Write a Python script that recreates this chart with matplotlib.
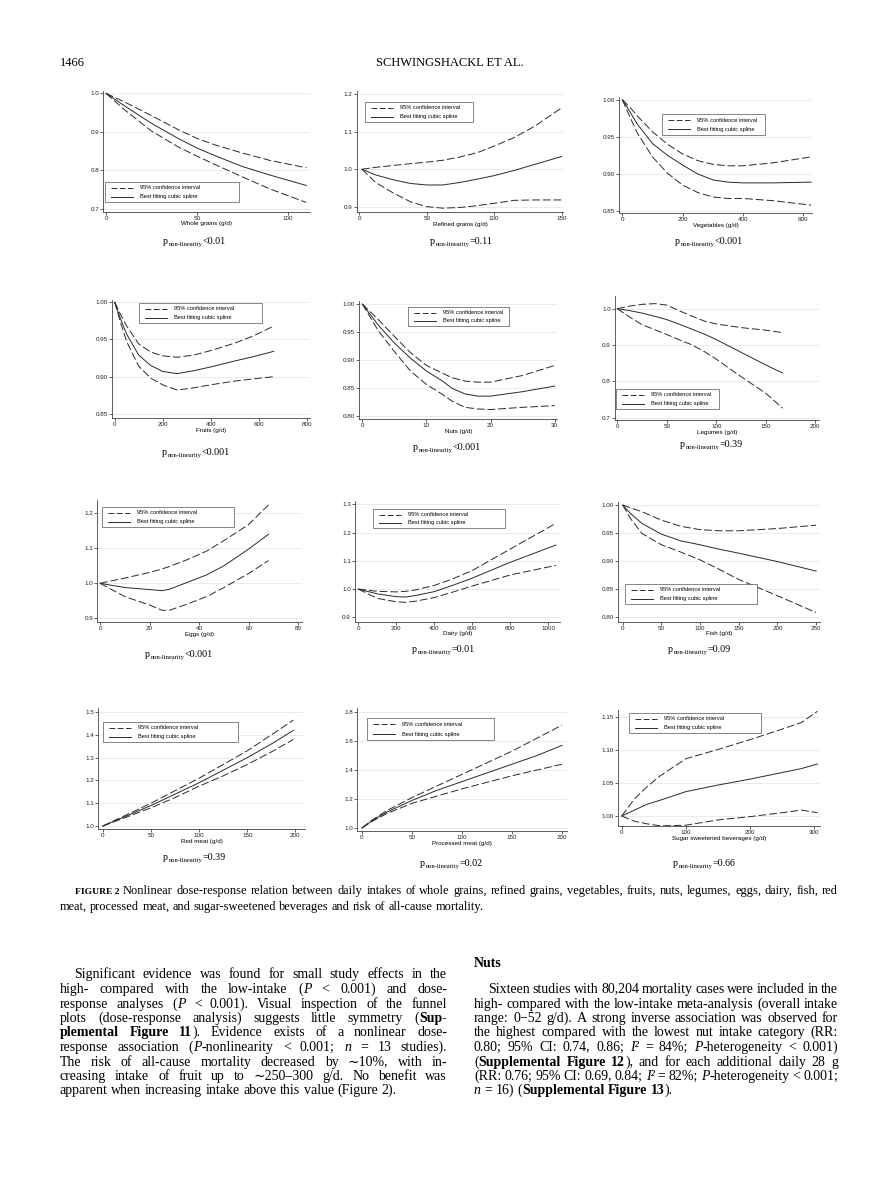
import math
import numpy as np
import matplotlib
matplotlib.use("Agg")
import matplotlib.pyplot as plt
from matplotlib.patches import Rectangle
from matplotlib.lines import Line2D
from matplotlib.font_manager import FontProperties

# ---- curves (x in g/d, relative risk) ----
wg_x = [0, 10, 25, 40, 50, 60, 75, 90, 110]
wg_fit = [1.0, 0.968, 0.922, 0.882, 0.858, 0.838, 0.810, 0.788, 0.761]
wg_hi = [1.0, 0.978, 0.942, 0.905, 0.883, 0.866, 0.845, 0.826, 0.807]
wg_lo = [1.0, 0.958, 0.902, 0.860, 0.837, 0.815, 0.783, 0.752, 0.717]

rg_x = [2, 12, 25, 38, 50, 62, 75, 88, 100, 115, 130, 150]
rg_fit = [1.0, 0.985, 0.972, 0.962, 0.958, 0.958, 0.965, 0.974, 0.983, 0.997, 1.013, 1.034]
rg_hi = [1.0, 1.005, 1.010, 1.015, 1.019, 1.024, 1.033, 1.045, 1.062, 1.085, 1.115, 1.164]
rg_lo = [1.0, 0.965, 0.937, 0.913, 0.900, 0.896, 0.898, 0.903, 0.909, 0.917, 0.918, 0.918]

veg_x = [0, 25, 50, 100, 150, 200, 250, 300, 350, 400, 500, 626]
veg_fit = [1.0, 0.984, 0.967, 0.941, 0.925, 0.912, 0.900, 0.892, 0.889, 0.888, 0.888, 0.889]
veg_hi = [1.0, 0.990, 0.978, 0.957, 0.940, 0.927, 0.918, 0.913, 0.911, 0.911, 0.915, 0.923]
veg_lo = [1.0, 0.977, 0.955, 0.923, 0.901, 0.885, 0.875, 0.869, 0.867, 0.867, 0.864, 0.858]

fr_x = [0, 25, 50, 100, 150, 200, 260, 330, 400, 500, 580, 663]
fr_fit = [1.0, 0.977, 0.957, 0.929, 0.915, 0.907, 0.904, 0.908, 0.913, 0.921, 0.927, 0.934]
fr_hi = [1.0, 0.983, 0.968, 0.944, 0.933, 0.928, 0.926, 0.929, 0.935, 0.945, 0.955, 0.968]
fr_lo = [1.0, 0.972, 0.947, 0.914, 0.898, 0.889, 0.882, 0.885, 0.889, 0.894, 0.897, 0.900]

nut_x = [0, 2.5, 5, 7.5, 10, 12.5, 14, 16, 18, 20, 25, 30]
nut_fit = [1.0, 0.962, 0.930, 0.903, 0.880, 0.862, 0.849, 0.839, 0.835, 0.835, 0.843, 0.853]
nut_hi = [1.0, 0.972, 0.942, 0.913, 0.890, 0.876, 0.868, 0.862, 0.860, 0.860, 0.872, 0.890]
nut_lo = [1.0, 0.952, 0.915, 0.880, 0.856, 0.838, 0.826, 0.815, 0.812, 0.811, 0.815, 0.818]

leg_x = [0, 12, 25, 38, 50, 62, 75, 88, 100, 125, 150, 167]
leg_fit = [1.0, 0.995, 0.988, 0.979, 0.970, 0.958, 0.944, 0.930, 0.915, 0.880, 0.845, 0.823]
leg_hi = [1.0, 1.007, 1.012, 1.014, 1.010, 0.995, 0.980, 0.966, 0.958, 0.948, 0.941, 0.934]
leg_lo = [1.0, 0.978, 0.956, 0.942, 0.929, 0.915, 0.901, 0.882, 0.861, 0.813, 0.767, 0.726]

egg_x = [0, 10, 20, 25, 28, 35, 43, 50, 60, 68]
egg_fit = [1.0, 0.988, 0.982, 0.979, 0.983, 1.002, 1.024, 1.050, 1.098, 1.140]
egg_hi = [1.0, 1.015, 1.031, 1.041, 1.048, 1.067, 1.092, 1.122, 1.168, 1.224]
egg_lo = [1.0, 0.962, 0.938, 0.923, 0.923, 0.940, 0.962, 0.988, 1.028, 1.065]

dai_x = [0, 100, 200, 250, 300, 400, 500, 600, 800, 1040]
dai_fit = [1.0, 0.983, 0.973, 0.972, 0.977, 0.991, 1.014, 1.039, 1.095, 1.156]
dai_hi = [1.0, 0.992, 0.990, 0.992, 0.997, 1.013, 1.037, 1.066, 1.142, 1.233]
dai_lo = [1.0, 0.967, 0.955, 0.953, 0.957, 0.970, 0.990, 1.011, 1.050, 1.084]

fish_x = [0, 10, 25, 50, 75, 100, 125, 150, 200, 250]
fish_fit = [1.0, 0.985, 0.967, 0.948, 0.936, 0.929, 0.921, 0.914, 0.899, 0.882]
fish_hi = [1.0, 0.995, 0.988, 0.973, 0.962, 0.956, 0.954, 0.954, 0.958, 0.964]
fish_lo = [1.0, 0.976, 0.949, 0.929, 0.916, 0.902, 0.885, 0.867, 0.838, 0.808]

rm_x = [0, 25, 50, 75, 100, 125, 150, 175, 198]
rm_fit = [1.0, 1.045, 1.09, 1.14, 1.19, 1.245, 1.30, 1.36, 1.42]
rm_hi = [1.0, 1.05, 1.10, 1.155, 1.21, 1.27, 1.33, 1.40, 1.465]
rm_lo = [1.0, 1.04, 1.08, 1.125, 1.175, 1.22, 1.27, 1.325, 1.38]

pm_x = [0, 10, 25, 50, 75, 100, 125, 150, 175, 200]
pm_fit = [1.0, 1.05, 1.11, 1.19, 1.26, 1.32, 1.38, 1.44, 1.50, 1.57]
pm_hi = [1.0, 1.055, 1.12, 1.21, 1.29, 1.37, 1.45, 1.53, 1.62, 1.71]
pm_lo = [1.0, 1.045, 1.10, 1.17, 1.22, 1.27, 1.315, 1.36, 1.40, 1.44]

ssb_x = [0, 20, 40, 60, 100, 150, 200, 250, 280, 305]
ssb_fit = [1.0, 1.009, 1.018, 1.024, 1.037, 1.047, 1.056, 1.066, 1.072, 1.079]
ssb_hi = [1.0, 1.026, 1.045, 1.061, 1.087, 1.101, 1.116, 1.132, 1.142, 1.159]
ssb_lo = [1.0, 0.992, 0.988, 0.985, 0.986, 0.994, 0.999, 1.005, 1.009, 1.005]

xlabels = ['Whole grains (g/d)', 'Refined grains (g/d)', 'Vegetables (g/d)',
           'Fruits (g/d)', 'Nuts (g/d)', 'Legumes (g/d)',
           'Eggs (g/d)', 'Dairy (g/d)', 'Fish (g/d)',
           'Red meat (g/d)', 'Processed meat (g/d)', 'Sugar sweetened beverages (g/d)']
p_values = ['<0.01', '=0.11', '<0.001', '<0.001', '<0.001', '=0.39',
            '<0.001', '=0.01', '=0.09', '=0.39', '=0.02', '=0.66']
legend_labels = ['95% confidence interval', 'Best fitting cubic spline']

W, H = 892, 1195
fig = plt.figure(figsize=(W / 100, H / 100), dpi=100)
renderer = fig.canvas.get_renderer()

SANS = ['Liberation Sans', 'DejaVu Sans']
SERIF = ['Liberation Serif', 'DejaVu Serif']
plt.rcParams['font.family'] = SANS
curve_col = '#2a2a2a'
label_size = 4.5
leg_size = 4.1


def fx(x):
    return x / W


def fy(y):
    return 1 - y / H


# rect = (left, top, right, bottom) in page pixels, leg = legend box
panels = [
    dict(d=(wg_x, wg_fit, wg_lo, wg_hi), rect=(103.3, 91, 310, 211.7), xlim=(-1.5, 112), ylim=(0.693, 1.006),
         xt=[0, 50, 100], yt=[0.7, 0.8, 0.9, 1.0], fmt='%.1f', pp=(163, 244), leg=(105, 182, 239, 202)),
    dict(d=(rg_x, rg_fit, rg_lo, rg_hi), rect=(356.7, 91, 563.3, 212.3), xlim=(-1.9, 151.2), ylim=(0.885, 1.209),
         xt=[0, 50, 100, 150], yt=[0.9, 1.0, 1.1, 1.2], fmt='%.1f', pp=(430, 244), leg=(365, 102, 473, 122)),
    dict(d=(veg_x, veg_fit, veg_lo, veg_hi), rect=(619.3, 97, 812.3, 213.3), xlim=(-10, 630), ylim=(0.847, 1.0037),
         xt=[0, 200, 400, 600], yt=[0.85, 0.90, 0.95, 1.00], fmt='%.2f', pp=(675, 244), leg=(662, 114, 765, 135)),
    dict(d=(fr_x, fr_fit, fr_lo, fr_hi), rect=(111.7, 300, 310, 418.3), xlim=(-12.5, 814), ylim=(0.844, 1.003),
         xt=[0, 200, 400, 600, 800], yt=[0.85, 0.90, 0.95, 1.00], fmt='%.2f', pp=(162, 455), leg=(139, 303, 262, 323)),
    dict(d=(nut_x, nut_fit, nut_lo, nut_hi), rect=(359.3, 301, 557.3, 419.3), xlim=(-0.47, 30.4), ylim=(0.7935, 1.0054),
         xt=[0, 10, 20, 30], yt=[0.80, 0.85, 0.90, 0.95, 1.00], fmt='%.2f', pp=(413, 450), leg=(408, 307, 509, 326)),
    dict(d=(leg_x, leg_fit, leg_lo, leg_hi), rect=(615, 296, 819.3, 420), xlim=(-2.3, 204), ylim=(0.6936, 1.035),
         xt=[0, 50, 100, 150, 200], yt=[0.7, 0.8, 0.9, 1.0], fmt='%.1f', pp=(680, 447), leg=(616, 389, 719, 409)),
    dict(d=(egg_x, egg_fit, egg_lo, egg_hi), rect=(97.3, 500, 301.7, 622.3), xlim=(-1.1, 81.4), ylim=(0.8886, 1.238),
         xt=[0, 20, 40, 60, 80], yt=[0.9, 1.0, 1.1, 1.2], fmt='%.1f', pp=(145, 657), leg=(102, 507, 234, 527)),
    dict(d=(dai_x, dai_fit, dai_lo, dai_hi), rect=(355, 501, 560, 621.7), xlim=(-17.5, 1061), ylim=(0.8845, 1.3118),
         xt=[0, 200, 400, 600, 800, 1000], yt=[0.9, 1.0, 1.1, 1.2, 1.3], fmt='%.1f', pp=(412, 652), leg=(373, 509, 505, 528)),
    dict(d=(fish_x, fish_fit, fish_lo, fish_hi), rect=(618.3, 502, 820, 621.7), xlim=(-5.7, 255), ylim=(0.7916, 1.0054),
         xt=[0, 50, 100, 150, 200, 250], yt=[0.80, 0.85, 0.90, 0.95, 1.00], fmt='%.2f', pp=(668, 652), leg=(625, 584, 757, 604)),
    dict(d=(rm_x, rm_fit, rm_lo, rm_hi), rect=(98, 708, 305, 829), xlim=(-5, 210), ylim=(0.987, 1.518),
         xt=[0, 50, 100, 150, 200], yt=[1.0, 1.1, 1.2, 1.3, 1.4, 1.5], fmt='%.1f', pp=(163, 860), leg=(103, 722, 238, 742)),
    dict(d=(pm_x, pm_fit, pm_lo, pm_hi), rect=(357, 708, 567, 831), xlim=(-5, 205), ylim=(0.979, 1.828),
         xt=[0, 50, 100, 150, 200], yt=[1.0, 1.2, 1.4, 1.6, 1.8], fmt='%.1f', pp=(420, 866), leg=(367, 718, 494, 740)),
    dict(d=(ssb_x, ssb_fit, ssb_lo, ssb_hi), rect=(618.3, 710, 820, 826), xlim=(-5.3, 309), ylim=(0.9848, 1.161),
         xt=[0, 100, 200, 300], yt=[1.00, 1.05, 1.10, 1.15], fmt='%.2f', pp=(673, 866), leg=(629, 713, 761, 733)),
]


def tw(s, prop):
    return renderer.get_text_width_height_descent(s, prop, ismath=False)[0]


def serif(size, bold=False, italic=False):
    return FontProperties(family=SERIF, size=size, weight='bold' if bold else 'normal',
                          style='italic' if italic else 'normal')


def put(x, y, s, prop, **kw):
    # Agg snaps each text bitmap by its own descent; shift so every baseline lands on row round(y)
    w, h, d = renderer.get_text_width_height_descent(s, prop, ismath=False)
    ytd = round(y) + math.floor(h) - math.floor(h - d) - d
    fig.text(fx(x), fy(ytd), s, fontproperties=prop, va='baseline', **kw)


for k, p in enumerate(panels):
    l, t, r, b = p['rect']
    ax = fig.add_axes([fx(l), fy(b), (r - l) / W, (b - t) / H])
    x, fit, lo, hi = p['d']
    ax.plot(x, hi, color=curve_col, lw=0.7, dashes=(8, 3))
    ax.plot(x, fit, color=curve_col, lw=0.7)
    ax.plot(x, lo, color=curve_col, lw=0.7, dashes=(8, 3))
    ax.set_xlim(p['xlim'])
    ax.set_ylim(p['ylim'])
    ax.set_xticks(p['xt'])
    ax.set_yticks(p['yt'])
    ax.set_yticklabels([p['fmt'] % v for v in p['yt']])
    ax.yaxis.grid(True, color='#e8e8e8', lw=0.6)
    ax.set_axisbelow(True)
    for s in ['top', 'right']:
        ax.spines[s].set_visible(False)
    for s in ['left', 'bottom']:
        ax.spines[s].set_color('#444444')
        ax.spines[s].set_linewidth(0.6)
    ax.tick_params(length=2, width=0.5, pad=1, labelsize=label_size, colors='#222222')
    ax.set_xlabel(xlabels[k], fontsize=label_size, labelpad=0.3)

    # legend box
    x0, y0, x1, y1 = p['leg']
    hgt = y1 - y0
    fig.add_artist(Rectangle((fx(x0), fy(y1)), (x1 - x0) / W, hgt / H, transform=fig.transFigure,
                             facecolor='white', edgecolor='#555555', lw=0.5, zorder=5))
    for j, (lab, ls) in enumerate(zip(legend_labels, [(6, 2.5), None])):
        yy = y0 + hgt * (0.29 if j == 0 else 0.73)
        ln = Line2D([fx(x0 + 6), fx(x0 + 28)], [fy(yy), fy(yy)], transform=fig.transFigure,
                    color=curve_col, lw=0.7, zorder=6)
        if ls:
            ln.set_dashes(ls)
        fig.add_artist(ln)
        fig.text(fx(x0 + 35), fy(yy), lab, fontsize=leg_size, va='center', ha='left', zorder=6)

    # p non-linearity text
    px, py = p['pp']
    big = serif(7.2)
    small = serif(4.7)
    put(px, py, 'p', big)
    px += tw('p', big) + 0.5
    sub = 'non-linearity'
    put(px, py + 2, sub, small)
    px += tw(sub, small) + 0.5
    put(px, py, p_values[k], big)


# ---- page text ----
def parse(line):
    words = []
    bold = False
    ital = False
    for w in line.split(' '):
        runs = []
        buf = ''
        for ch in w:
            if ch in '*_':
                if buf:
                    runs.append((buf, bold, ital))
                    buf = ''
                if ch == '*':
                    bold = not bold
                else:
                    ital = not ital
            else:
                buf += ch
        if buf:
            runs.append((buf, bold, ital))
        words.append(runs)
    return words


def draw_line(line, x0, x1, y, size, justify=True):
    words = parse(line)
    widths = [sum(tw(t, serif(size, b, i)) for t, b, i in runs) for runs in words]
    space = tw('a a', serif(size)) - tw('aa', serif(size))
    if justify and len(words) > 1:
        gap = (x1 - x0 - sum(widths)) / (len(words) - 1)
    else:
        gap = space
    x = x0
    for runs, w in zip(words, widths):
        xx = x
        for t, b, i in runs:
            put(xx, y, t, serif(size, b, i), ha='left')
            xx += tw(t, serif(size, b, i))
        x += w + gap


put(60, 66, '1466', serif(9))
put(450, 66, 'SCHWINGSHACKL ET AL.', serif(9), ha='center')

cap = 8.9
put(75, 894, 'FIGURE 2', serif(6.8, True))
draw_line('Nonlinear dose-response relation between daily intakes of whole grains, refined grains, '
          'vegetables, fruits, nuts, legumes, eggs, dairy, fish, red', 123, 838, 894, cap)
draw_line('meat, processed meat, and sugar-sweetened beverages and risk of all-cause mortality.',
          60, 838, 910, cap, justify=False)

body = 10.0
left_lines = [
    'Significant evidence was found for small study effects in the',
    'high- compared with the low-intake (_P_ < 0.001) and dose-',
    'response analyses (_P_ < 0.001). Visual inspection of the funnel',
    'plots (dose-response analysis) suggests little symmetry (*Sup-*',
    '*plemental Figure 11*). Evidence exists of a nonlinear dose-',
    'response association (_P_-nonlinearity < 0.001; _n_ = 13 studies).',
    'The risk of all-cause mortality decreased by ∼10%, with in-',
    'creasing intake of fruit up to ∼250–300 g/d. No benefit was',
    'apparent when increasing intake above this value (Figure 2).',
]
right_lines = [
    'Sixteen studies with 80,204 mortality cases were included in the',
    'high- compared with the low-intake meta-analysis (overall intake',
    'range: 0−52 g/d). A strong inverse association was observed for',
    'the highest compared with the lowest nut intake category (RR:',
    '0.80; 95% CI: 0.74, 0.86; _I²_ = 84%; _P_-heterogeneity < 0.001)',
    '(*Supplemental Figure 12*), and for each additional daily 28 g',
    '(RR: 0.76; 95% CI: 0.69, 0.84; _I²_ = 82%; _P_-heterogeneity < 0.001;',
    '_n_ = 16) (*Supplemental Figure 13*).',
]
step = 14.5
for i, ln in enumerate(left_lines):
    x0 = 74 if i == 0 else 60
    draw_line(ln, x0, 447, 978.5 + i * step, body, justify=(i < len(left_lines) - 1))
put(474, 967, 'Nuts', serif(body, True))
for i, ln in enumerate(right_lines):
    x0 = 488 if i == 0 else 474
    draw_line(ln, x0, 838, 993 + i * step, body, justify=(i < len(right_lines) - 1))

fig.savefig('out.png', dpi=100)
